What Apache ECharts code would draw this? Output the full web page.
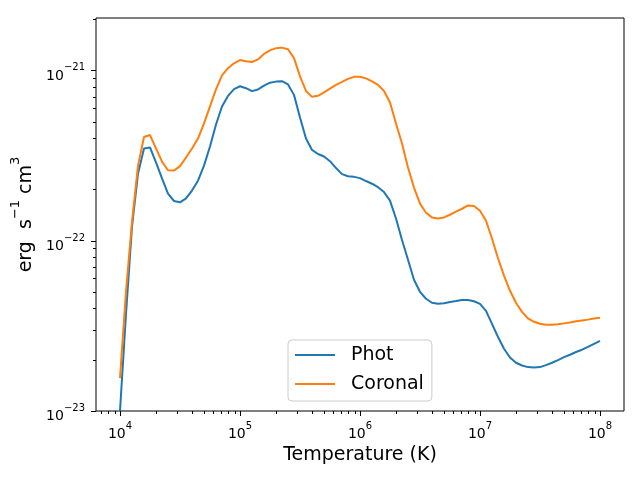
<!DOCTYPE html>
<html>
<head>
<meta charset="utf-8">
<script src="https://cdn.jsdelivr.net/npm/echarts@6.0.0/dist/echarts.min.js"></script>
<style>
  html, body { margin: 0; padding: 0; background: #fff; }
  #chart { width: 640px; height: 480px; }
</style>
</head>
<body>
<div id="chart"></div>
<script>
// Temperature grid (K)
const temperature = [
  1.000e4, 1.122e4, 1.259e4, 1.413e4, 1.585e4, 1.778e4, 1.995e4, 2.239e4, 2.512e4, 2.818e4,
  3.162e4, 3.548e4, 3.981e4, 4.467e4, 5.012e4, 5.623e4, 6.310e4, 7.079e4, 7.943e4, 8.913e4,
  1.000e5, 1.122e5, 1.259e5, 1.413e5, 1.585e5, 1.778e5, 1.995e5, 2.239e5, 2.512e5, 2.818e5,
  3.162e5, 3.548e5, 3.981e5, 4.467e5, 5.012e5, 5.623e5, 6.310e5, 7.079e5, 7.943e5, 8.913e5,
  1.000e6, 1.122e6, 1.259e6, 1.413e6, 1.585e6, 1.778e6, 1.995e6, 2.239e6, 2.512e6, 2.818e6,
  3.162e6, 3.548e6, 3.981e6, 4.467e6, 5.012e6, 5.623e6, 6.310e6, 7.079e6, 7.943e6, 8.913e6,
  1.000e7, 1.122e7, 1.259e7, 1.413e7, 1.585e7, 1.778e7, 1.995e7, 2.239e7, 2.512e7, 2.818e7,
  3.162e7, 3.548e7, 3.981e7, 4.467e7, 5.012e7, 5.623e7, 6.310e7, 7.079e7, 7.943e7, 8.913e7,
  1.000e8
];

// Phot series (erg s^-1 cm^3)
const phot = [
  1.00e-23, 3.72e-23, 1.21e-22, 2.48e-22, 3.48e-22, 3.53e-22, 2.88e-22, 2.32e-22, 1.89e-22, 1.71e-22,
  1.68e-22, 1.77e-22, 1.97e-22, 2.25e-22, 2.76e-22, 3.57e-22, 4.81e-22, 6.14e-22, 7.08e-22, 7.76e-22,
  8.07e-22, 7.86e-22, 7.55e-22, 7.73e-22, 8.13e-22, 8.47e-22, 8.59e-22, 8.64e-22, 8.27e-22, 7.18e-22,
  5.29e-22, 3.98e-22, 3.41e-22, 3.23e-22, 3.12e-22, 2.93e-22, 2.67e-22, 2.46e-22, 2.39e-22, 2.37e-22,
  2.33e-22, 2.24e-22, 2.16e-22, 2.06e-22, 1.93e-22, 1.72e-22, 1.35e-22, 1.01e-22, 7.73e-23, 5.90e-23,
  5.01e-23, 4.56e-23, 4.32e-23, 4.26e-23, 4.29e-23, 4.36e-23, 4.42e-23, 4.49e-23, 4.49e-23, 4.41e-23,
  4.26e-23, 3.87e-23, 3.25e-23, 2.72e-23, 2.32e-23, 2.06e-23, 1.92e-23, 1.85e-23, 1.81e-23, 1.80e-23,
  1.81e-23, 1.86e-23, 1.92e-23, 1.99e-23, 2.07e-23, 2.14e-23, 2.22e-23, 2.29e-23, 2.38e-23, 2.48e-23,
  2.58e-23
];

// Coronal series (erg s^-1 cm^3)
const coronal = [
  1.56e-23, 5.01e-23, 1.29e-22, 2.76e-22, 4.06e-22, 4.17e-22, 3.48e-22, 2.91e-22, 2.59e-22, 2.58e-22,
  2.74e-22, 3.08e-22, 3.48e-22, 3.98e-22, 4.88e-22, 6.14e-22, 7.73e-22, 9.35e-22, 1.03e-21, 1.10e-21,
  1.15e-21, 1.13e-21, 1.12e-21, 1.16e-21, 1.25e-21, 1.31e-21, 1.35e-21, 1.36e-21, 1.33e-21, 1.18e-21,
  9.22e-22, 7.57e-22, 6.99e-22, 7.09e-22, 7.42e-22, 7.81e-22, 8.21e-22, 8.55e-22, 8.91e-22, 9.16e-22,
  9.18e-22, 8.97e-22, 8.61e-22, 8.22e-22, 7.57e-22, 6.48e-22, 4.88e-22, 3.72e-22, 2.69e-22, 2.05e-22,
  1.65e-22, 1.46e-22, 1.37e-22, 1.35e-22, 1.37e-22, 1.42e-22, 1.48e-22, 1.54e-22, 1.61e-22, 1.60e-22,
  1.50e-22, 1.31e-22, 1.03e-22, 7.89e-23, 6.23e-23, 5.08e-23, 4.32e-23, 3.82e-23, 3.50e-23, 3.34e-23,
  3.25e-23, 3.21e-23, 3.21e-23, 3.23e-23, 3.27e-23, 3.31e-23, 3.36e-23, 3.40e-23, 3.44e-23, 3.49e-23,
  3.53e-23
];

const seriesNames = ['Phot', 'Coronal'];

// Axis ranges and tick values (true units)
const xRange = [6309.57, 1.5849e8];
const yRange = [1e-23, 2.03e-21];
const xMajorTicks = [1e4, 1e5, 1e6, 1e7, 1e8];
const xMinorTicks = [7e3, 8e3, 9e3,
  2e4, 3e4, 4e4, 5e4, 6e4, 7e4, 8e4, 9e4,
  2e5, 3e5, 4e5, 5e5, 6e5, 7e5, 8e5, 9e5,
  2e6, 3e6, 4e6, 5e6, 6e6, 7e6, 8e6, 9e6,
  2e7, 3e7, 4e7, 5e7, 6e7, 7e7, 8e7, 9e7];
const yMajorTicks = [1e-23, 1e-22, 1e-21];
const yMinorTicks = [2e-23, 3e-23, 4e-23, 5e-23, 6e-23, 7e-23, 8e-23, 9e-23,
  2e-22, 3e-22, 4e-22, 5e-22, 6e-22, 7e-22, 8e-22, 9e-22, 2e-21];

// The log axis of ECharts 6 rounds fixed bounds below 1e-20 to zero,
// so the y axis works in units of 1e-21 and the labels add the exponent back.
const Y_UNIT_EXP = -21;
const Y_UNIT = 1e-21;
const toAxis = v => v / Y_UNIT;

const FONT = 'DejaVu Sans';
const COLORS = ['#1f77b4', '#ff7f0e'];

function powLabel(offset) {
  return function (v) {
    const e = Math.log10(v);
    const r = Math.round(e);
    if (Math.abs(e - r) > 1e-6) return '';
    const exp = String(r + offset).replace('-', '\u2212');
    return '{b|10}{s|' + exp + '}';
  };
}
const labelRich = {
  b: { fontFamily: FONT, fontSize: 14, lineHeight: 20, verticalAlign: 'bottom', color: '#000' },
  s: { fontFamily: FONT, fontSize: 10, verticalAlign: 'top', color: '#000' }
};

function tickSeries(dir, values, len) {
  return {
    type: 'custom',
    silent: true,
    clip: false,
    z: 10,
    data: values.map(v => dir === 'x' ? [v, toAxis(yRange[0])] : [xRange[0], toAxis(v)]),
    renderItem: function (params, api) {
      const p = api.coord([api.value(0), api.value(1)]);
      let shape;
      if (dir === 'x') {
        const x = Math.round(p[0]) + 0.5;
        shape = { x1: x, y1: p[1], x2: x, y2: p[1] + len };
      } else {
        const y = Math.round(p[1]) + 0.5;
        shape = { x1: p[0], y1: y, x2: p[0] - len, y2: y };
      }
      return { type: 'line', shape: shape, style: { stroke: '#000', lineWidth: 1 } };
    }
  };
}

const chart = echarts.init(document.getElementById('chart'), null, { renderer: 'canvas' });

chart.setOption({
  animation: false,
  backgroundColor: '#fff',
  grid: {
    left: 96, right: 16, top: 18, bottom: 69,
    show: true, borderColor: '#000', borderWidth: 1, backgroundColor: 'transparent'
  },
  legend: {
    data: seriesNames,
    orient: 'vertical',
    left: 288, top: 340,
    icon: 'rect',
    itemWidth: 40, itemHeight: 2, itemGap: 9,
    padding: [5, 8, 7, 7],
    borderColor: '#cccccc', borderWidth: 1, borderRadius: 4,
    backgroundColor: 'rgba(255,255,255,0.8)',
    textStyle: { fontFamily: FONT, fontSize: 19, color: '#000', lineHeight: 20, padding: [0, 0, 0, 11] }
  },
  xAxis: {
    type: 'log', logBase: 10,
    min: xRange[0], max: xRange[1],
    name: 'Temperature (K)', nameLocation: 'middle', nameGap: 32,
    nameTextStyle: { fontFamily: FONT, fontSize: 19, color: '#000' },
    axisLine: { show: false },
    axisTick: { show: false },
    splitLine: { show: false },
    minorTick: { show: false },
    axisLabel: { margin: 10, formatter: powLabel(0), rich: labelRich, color: '#000' }
  },
  yAxis: {
    type: 'log', logBase: 10,
    min: toAxis(yRange[0]), max: toAxis(yRange[1]),
    name: '{n|erg  s}{p|\u22121}{n| cm}{p|3}', nameLocation: 'middle', nameGap: 58, nameRotate: 90,
    nameTextStyle: {
      fontFamily: FONT, fontSize: 19, color: '#000',
      rich: {
        n: { fontFamily: FONT, fontSize: 19, lineHeight: 26, verticalAlign: 'bottom', color: '#000' },
        p: { fontFamily: FONT, fontSize: 13, verticalAlign: 'top', color: '#000' }
      }
    },
    axisLine: { show: false },
    axisTick: { show: false },
    splitLine: { show: false },
    minorTick: { show: false },
    axisLabel: { margin: 11, padding: [5, 0, 0, 0], formatter: powLabel(Y_UNIT_EXP), rich: labelRich, color: '#000' }
  },
  series: [
    {
      name: seriesNames[0], type: 'line', symbol: 'none', smooth: false,
      color: COLORS[0], lineStyle: { width: 2, color: COLORS[0] },
      data: temperature.map((t, i) => [t, toAxis(phot[i])])
    },
    {
      name: seriesNames[1], type: 'line', symbol: 'none', smooth: false,
      color: COLORS[1], lineStyle: { width: 2, color: COLORS[1] },
      data: temperature.map((t, i) => [t, toAxis(coronal[i])])
    },
    tickSeries('x', xMajorTicks, 5),
    tickSeries('x', xMinorTicks, 3),
    tickSeries('y', yMajorTicks, 5),
    tickSeries('y', yMinorTicks, 3)
  ]
});
</script>
</body>
</html>
